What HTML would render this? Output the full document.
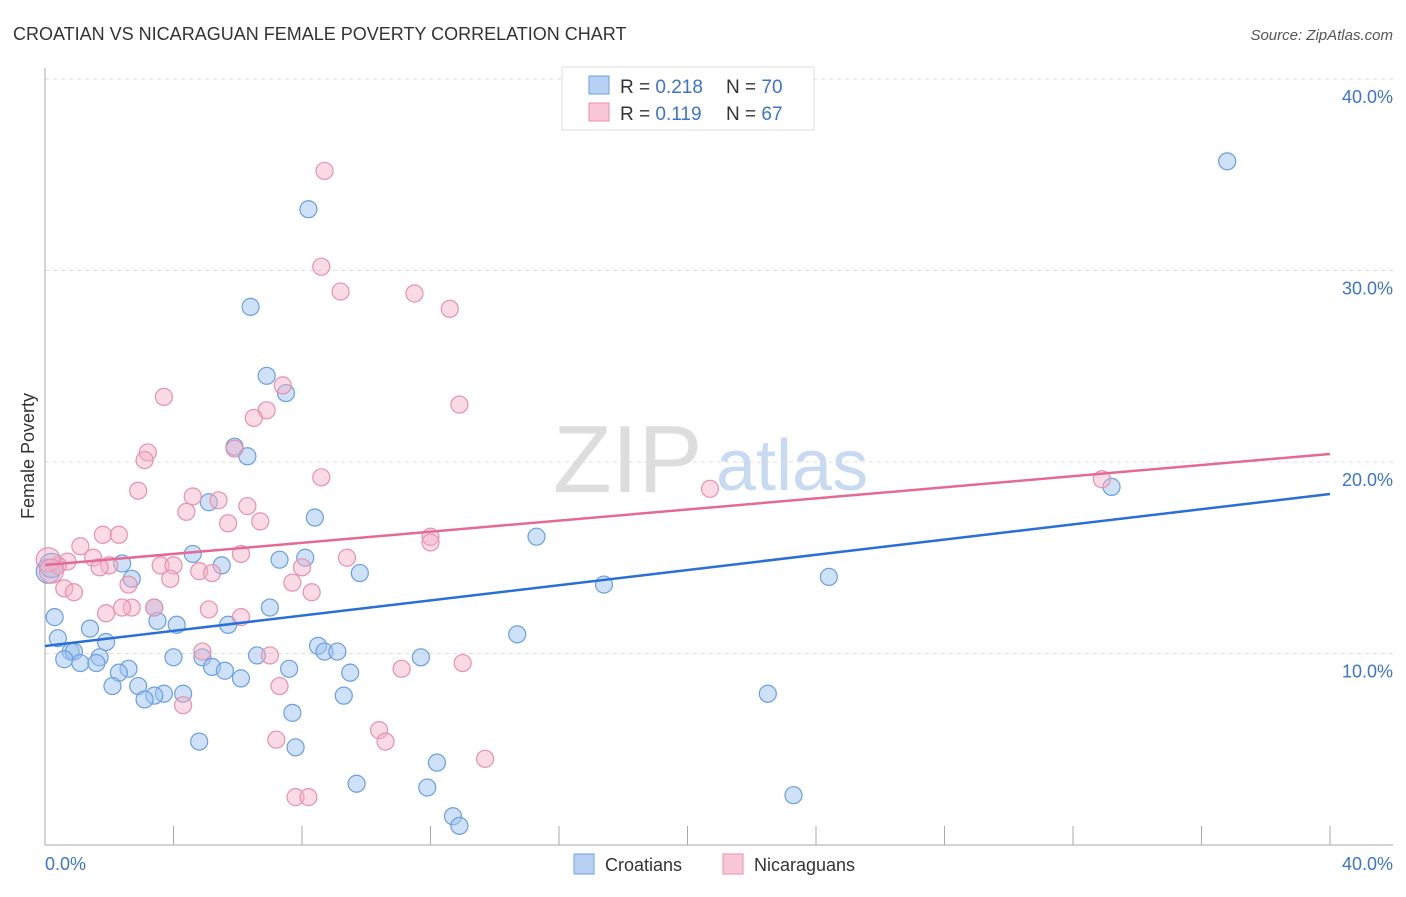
<!DOCTYPE html>
<html><head><meta charset="utf-8"><style>
body{margin:0;background:#fff;font-family:"Liberation Sans",sans-serif;}
svg text{font-family:"Liberation Sans",sans-serif;}
</style></head><body>
<svg id="chart" width="1406" height="892">
<text x="13" y="40" font-size="18" fill="#333">CROATIAN VS NICARAGUAN FEMALE POVERTY CORRELATION CHART</text>
<text x="1393" y="40" font-size="15" fill="#555" text-anchor="end" font-style="italic">Source: ZipAtlas.com</text>
<g>
<text x="553" y="492" font-size="96" fill="#ddd" font-family="Liberation Serif,serif">ZIP</text>
<text x="716" y="490" font-size="72" fill="#c8daf2">atlas</text>
</g>
<g id="grid"></g><g id="axes"></g><g id="pts"></g><g id="lines"></g>
<text transform="translate(34,456) rotate(-90)" font-size="18" fill="#333" text-anchor="middle">Female Poverty</text>
<g>
<rect x="562" y="67" width="252" height="63" fill="#fff" stroke="#ddd"/>
<rect x="589" y="76" width="20" height="18" fill="#b7d0f3" stroke="#6a9fe0"/>
<rect x="589" y="103" width="20" height="18" fill="#f8c6d6" stroke="#e890ad"/>
<text x="620" y="93" font-size="19" fill="#333">R = <tspan fill="#3b74d0">0.218</tspan><tspan x="726">N = </tspan><tspan fill="#3b74d0">70</tspan></text>
<text x="620" y="120" font-size="19" fill="#333">R = <tspan fill="#3b74d0"> 0.119</tspan><tspan x="726">N = </tspan><tspan fill="#3b74d0">67</tspan></text>
</g>
<g>
<rect x="574" y="854" width="20" height="20" fill="#b7d0f3" stroke="#6a9fe0"/>
<text x="605" y="871" font-size="18" fill="#333">Croatians</text>
<rect x="723" y="854" width="20" height="20" fill="#f8c6d6" stroke="#e890ad"/>
<text x="754" y="871" font-size="18" fill="#333">Nicaraguans</text>
</g>
</svg>
<script>
const yTicks=[10,20,30,40];
const yTickLabels=["10.0%","20.0%","30.0%","40.0%"];
const xEndLabels=["0.0%","40.0%"];
const blueX=[36.8,8.2,6.4,6.9,7.5,5.9,6.3,5.1,8.4,15.3,33.2,4.6,8.1,7.3,5.5,2.4,2.7,9.8,24.4,17.4,3.4,7.0,3.5,4.1,5.7,1.4,14.7,0.3,0.4,1.9,8.5,8.7,9.1,0.8,1.7,0.9,0.6,4.0,4.9,11.7,1.1,1.6,2.6,5.2,5.6,7.6,9.5,2.3,6.6,6.1,2.1,2.9,3.7,4.3,3.4,9.3,3.1,22.5,7.7,4.8,7.8,12.2,9.7,11.9,23.3,12.7,12.9,0.1,0.2];
const blueY=[35.7,33.2,28.1,24.5,23.6,20.8,20.3,17.9,17.1,16.1,18.7,15.2,15.0,14.9,14.6,14.7,13.9,14.2,14.0,13.6,12.4,12.4,11.7,11.5,11.5,11.3,11.0,11.9,10.8,10.6,10.4,10.1,10.1,10.1,9.8,10.1,9.7,9.8,9.8,9.8,9.5,9.5,9.2,9.3,9.1,9.2,9.0,9.0,9.9,8.7,8.3,8.3,7.9,7.9,7.8,7.8,7.6,7.9,6.9,5.4,5.1,4.3,3.2,3.0,2.6,1.5,1.0,14.3,14.6];
const pinkX=[8.7,8.6,9.2,11.5,12.6,3.7,7.4,6.9,6.5,12.9,5.9,3.2,3.1,8.6,20.7,32.9,2.9,4.6,5.4,4.4,6.3,6.7,5.7,1.8,2.3,12.0,12.0,1.1,1.5,0.7,2.0,0.4,1.7,6.1,9.4,3.6,4.0,4.8,5.2,8.0,3.9,7.7,2.6,0.6,0.9,8.3,3.4,2.7,2.4,1.9,5.1,6.1,4.9,7.0,11.1,13.0,7.3,4.3,7.2,10.4,10.6,13.7,7.8,8.2,0.1,0.2];
const pinkY=[35.2,30.2,28.9,28.8,28.0,23.4,24.0,22.7,22.3,23.0,20.7,20.5,20.1,19.2,18.6,19.1,18.5,18.2,18.0,17.4,17.7,16.9,16.8,16.2,16.2,16.1,15.8,15.6,15.0,14.8,14.6,14.6,14.5,15.2,15.0,14.6,14.6,14.3,14.2,14.5,13.9,13.7,13.6,13.4,13.2,13.2,12.4,12.4,12.4,12.1,12.3,11.9,10.1,9.9,9.2,9.5,8.3,7.3,5.5,6.0,5.4,4.5,2.5,2.5,14.9,14.3];
const blueTrend=[10.39,18.33];
const pinkTrend=[14.62,20.42];
const NS="http://www.w3.org/2000/svg";
const X0=45,X1=1330,Y0=845,PPY=19.15;
function sx(v){return X0+(X1-X0)*v/40;}
function sy(v){return Y0-v*PPY;}
function mk(tag,attrs,parent){const e=document.createElementNS(NS,tag);for(const k in attrs)e.setAttribute(k,attrs[k]);parent.appendChild(e);return e;}
const grid=document.getElementById('grid'),axes=document.getElementById('axes'),pts=document.getElementById('pts'),lines=document.getElementById('lines');
yTicks.forEach((t,i)=>{
 const l=mk('line',{x1:45,x2:1393,y1:sy(t),y2:sy(t),stroke:'#ddd','stroke-dasharray':'4,4'},grid);
 
 
 const tx=mk('text',{x:1393,y:sy(t)+24,'font-size':18,fill:'#3b74d0','text-anchor':'end'},grid);
 tx.textContent=yTickLabels[i];
 
 
});
const ya=mk('line',{x1:45,x2:45,y1:68,y2:845,stroke:'#aaa'},axes);


const xa=mk('line',{x1:45,x2:1393,y1:845,y2:845,stroke:'#aaa'},axes);


for(let i=0;i<=10;i++){
 const tk=mk('line',{x1:sx(i*4),x2:sx(i*4),y1:826,y2:845,stroke:'#aaa'},axes);
 
 
}
[[0,'start',45],[1,'end',1393]].forEach(([i,a,x])=>{
 const t=mk('text',{x:x,y:870,'font-size':18,fill:'#3b74d0','text-anchor':a},axes);
 t.textContent=xEndLabels[i];
 
 
});
function drawPts(xs,ys,fill,stroke,name){
 xs.forEach((x,i)=>{
  const big=i>=xs.length-2;
  const c=mk('circle',{cx:sx(x),cy:sy(ys[i]),r:big?12:8.5,fill:fill,stroke:stroke,'stroke-width':1.2},pts);
  
  
 });
}
drawPts(blueX,blueY,'rgba(160,196,240,0.5)','#6a9fe0','croatian-point');
drawPts(pinkX,pinkY,'rgba(245,175,198,0.45)','#e890ad','nicaraguan-point');
const bl=mk('line',{x1:sx(0),y1:sy(blueTrend[0]),x2:sx(40),y2:sy(blueTrend[1]),stroke:'#2a6fd6','stroke-width':2.5},lines);


const pl=mk('line',{x1:sx(0),y1:sy(pinkTrend[0]),x2:sx(40),y2:sy(pinkTrend[1]),stroke:'#e46a96','stroke-width':2.5},lines);


</script>
</body></html>
